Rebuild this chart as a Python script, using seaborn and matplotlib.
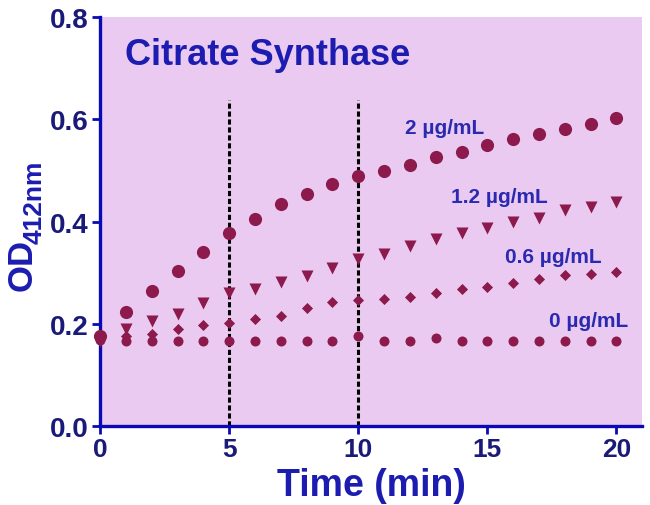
import numpy as np
import pandas as pd
import matplotlib
matplotlib.use("Agg")
import matplotlib.pyplot as plt
import seaborn as sns

time_min = list(range(21))
od_2 = [0.177, 0.224, 0.264, 0.304, 0.340, 0.377, 0.405, 0.434, 0.455, 0.473, 0.489,
        0.500, 0.511, 0.526, 0.536, 0.550, 0.561, 0.572, 0.582, 0.592, 0.602]
od_12 = [0.167, 0.189, 0.205, 0.220, 0.241, 0.261, 0.269, 0.282, 0.294, 0.310, 0.327,
         0.336, 0.353, 0.366, 0.377, 0.388, 0.399, 0.408, 0.423, 0.428, 0.438]
od_06 = [0.170, 0.177, 0.180, 0.190, 0.197, 0.202, 0.209, 0.216, 0.231, 0.243, 0.246,
         0.249, 0.253, 0.260, 0.268, 0.273, 0.280, 0.287, 0.295, 0.298, 0.302]
od_0 = [0.169, 0.167, 0.167, 0.167, 0.167, 0.167, 0.167, 0.167, 0.167, 0.167, 0.177,
        0.167, 0.167, 0.172, 0.167, 0.167, 0.167, 0.167, 0.167, 0.167, 0.167]
series_labels = ["2 µg/mL", "1.2 µg/mL", "0.6 µg/mL", "0 µg/mL"]
x_ticks = [0, 5, 10, 15, 20]
y_ticks = [0.0, 0.2, 0.4, 0.6, 0.8]
marker_lines = [5, 10]

sns.set_theme(style="white")
plt.rcParams["font.family"] = ["Liberation Sans", "DejaVu Sans"]

df = pd.DataFrame({
    "time": time_min * 4,
    "od": od_2 + od_12 + od_06 + od_0,
    "conc": sum([[s] * len(time_min) for s in series_labels], []),
})

W, H = 650, 506
fig = plt.figure(figsize=(6.5, 5.06), dpi=100)
ax = fig.add_axes([0.154, 0.156, 0.834, 0.808])
ax.set_facecolor("#ebcaf1")

mcol = "#8c1a4c"
styles = {"2 µg/mL": ("o", 90), "1.2 µg/mL": ("v", 75),
          "0.6 µg/mL": ("D", 32), "0 µg/mL": ("o", 52)}
for lab in series_labels:
    m, s = styles[lab]
    sub = df[df["conc"] == lab]
    sns.scatterplot(data=sub, x="time", y="od", marker=m, s=s, color=mcol,
                    edgecolor=mcol, linewidth=0, ax=ax, clip_on=False, zorder=3)

ax.vlines(marker_lines, 0, 0.638, colors="black", linestyles=(0, (1.7, 0.9)),
          linewidth=2.2, zorder=2)

ax.set_xlim(0, 21)
ax.set_ylim(0, 0.8)
ax.set_xticks(x_ticks)
ax.set_yticks(y_ticks)
ax.set_yticklabels([f"{v:.1f}" for v in y_ticks])

blue = "#0a0ab4"
for side in ["top", "right"]:
    ax.spines[side].set_visible(False)
for side in ["left", "bottom"]:
    ax.spines[side].set_color(blue)
    ax.spines[side].set_linewidth(2.4)
ax.tick_params(axis="both", direction="out", length=6, width=2, color=blue,
               colors="#1a1a78", pad=2, left=True, bottom=True)
for t in ax.get_xticklabels():
    t.set_fontweight("bold"); t.set_fontsize(19)
for t in ax.get_yticklabels():
    t.set_fontweight("bold"); t.set_fontsize(20)

txtblue = "#1c1cb0"
ax.set_xlabel("Time (min)", fontsize=27, fontweight="bold", color=txtblue, labelpad=4)
ax.set_ylabel("")
fig.text(22 / W, 1 - 291 / H, "OD", rotation=90, fontsize=25, fontweight="bold",
         color=txtblue, ha="center", va="bottom")
fig.text(35 / W, 1 - 244 / H, "412nm", rotation=90, fontsize=19, fontweight="bold",
         color=txtblue, ha="center", va="bottom")

ax.text(0.96, 0.728, "Citrate Synthase", fontsize=26, fontweight="bold", color=txtblue,
        va="center", ha="left")
label_pos = {"2 µg/mL": (11.8, 0.585), "1.2 µg/mL": (13.6, 0.449),
             "0.6 µg/mL": (15.7, 0.331), "0 µg/mL": (17.4, 0.207)}
for lab in series_labels:
    x, y = label_pos[lab]
    ax.text(x, y, lab, fontsize=15, fontweight="bold", color="#2a2ab0",
            va="center", ha="left")

fig.savefig("out.png", dpi=100, facecolor="white")
